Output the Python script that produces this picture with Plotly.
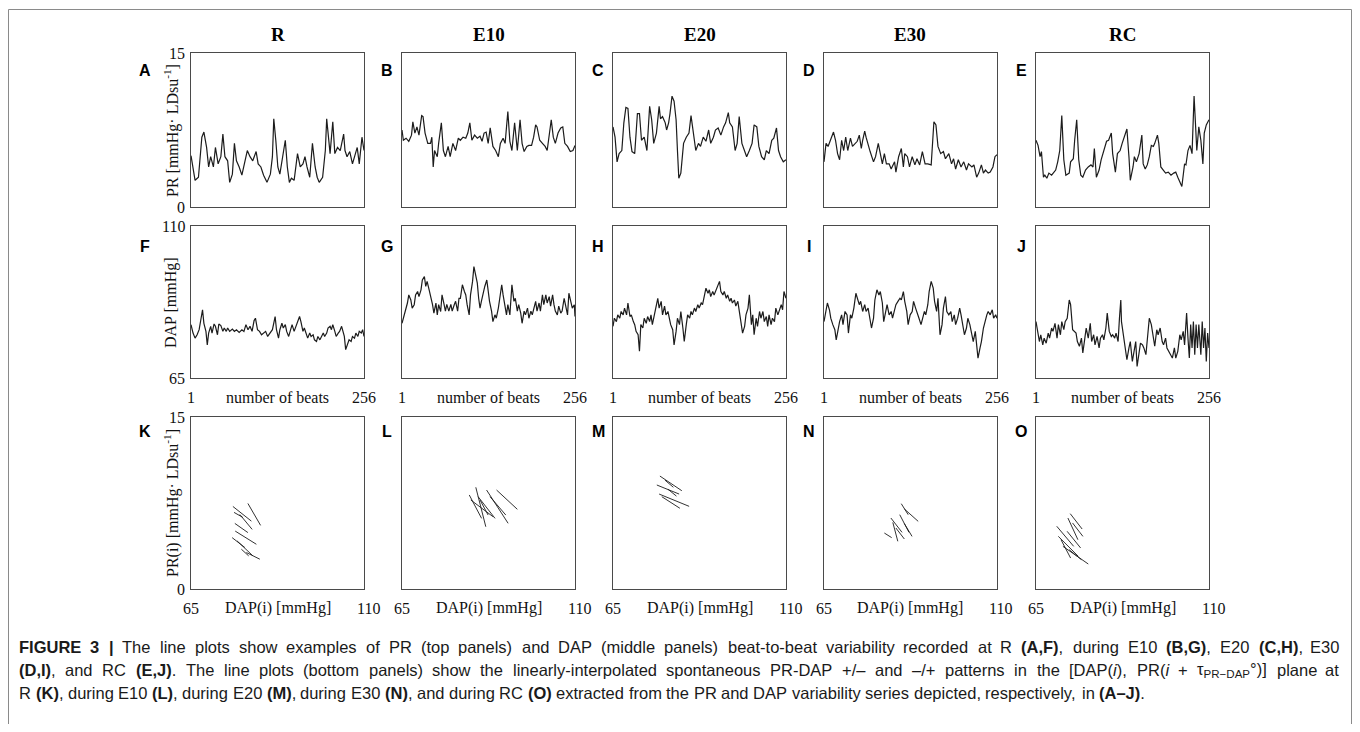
import re
import plotly.graph_objects as go

# ------------------------------------------------------------------ data
COLUMNS = ["R", "E10", "E20", "E30", "RC"]
TOP_LETTERS = ["A", "B", "C", "D", "E"]
MID_LETTERS = ["F", "G", "H", "I", "J"]
BOT_LETTERS = ["K", "L", "M", "N", "O"]

PR_RANGE = [0, 15]
DAP_RANGE = [65, 110]
BEAT_RANGE = [1, 256]
PR_TICKS = ["15", "0"]
DAP_TICKS = ["110", "65"]
BEAT_TICKS = ["1", "256"]
DAPX_TICKS = ["65", "110"]
Y_TITLES = ["PR [mmHg· LDsu<sup>-1</sup>]", "DAP [mmHg]", "PR(i) [mmHg· LDsu<sup>-1</sup>]"]
X_TITLES = ["number of beats", "DAP(i) [mmHg]"]

# PR series (beat, value) top row
PR_R = [(1,5.0),(7,2.6),(12,2.9),(17,6.8),(20,7.3),(24,5.8),(27,3.9),(30,4.9),(34,3.9),(37,5.8),(41,4.2),(45,4.9),(48,7.1),(51,4.9),(55,4.5),(58,2.4),(62,3.2),(65,6.2),(68,4.5),(72,3.9),(76,3.1),(81,4.5),(84,5.5),(88,4.9),(92,4.5),(97,5.4),(100,4.2),(104,3.9),(108,3.1),(113,2.4),(118,3.2),(121,4.9),(123,8.6),(126,6.5),(129,3.9),(132,3.2),(136,4.9),(140,6.5),(143,3.9),(146,2.4),(149,2.8),(153,2.6),(158,5.2),(162,3.9),(166,4.2),(169,4.9),(172,3.9),(176,2.9),(180,6.2),(184,3.9),(187,2.9),(190,2.4),(195,2.9),(199,5.5),(201,8.6),(204,6.8),(206,5.2),(210,8.3),(213,5.2),(217,5.8),(221,5.5),(226,7.1),(228,5.5),(231,4.9),(235,5.4),(239,4.2),(242,4.9),(246,5.8),(249,4.2),(253,6.8),(256,5.5)]
PR_E10 = [(1,7.5),(3,6.5),(7,6.7),(11,6.4),(15,7.0),(17,8.3),(20,7.2),(23,7.8),(26,7.0),(30,8.9),(32,8.8),(35,7.2),(39,6.2),(43,6.2),(45,6.8),(47,3.9),(49,5.5),(53,4.9),(55,6.2),(59,8.2),(62,5.5),(65,4.9),(69,5.9),(72,4.9),(76,6.2),(80,5.5),(84,6.7),(87,6.5),(91,6.8),(95,6.7),(98,7.2),(101,8.2),(104,6.5),(108,7.0),(112,6.7),(116,6.9),(119,6.4),(122,7.2),(125,7.3),(128,6.2),(131,7.7),(135,5.9),(139,5.5),(143,4.9),(146,6.2),(150,6.7),(153,6.2),(157,9.3),(160,6.4),(163,5.5),(167,8.2),(171,5.5),(175,8.5),(178,6.2),(181,5.4),(185,5.9),(188,6.0),(192,6.0),(195,6.8),(198,8.0),(200,7.8),(204,6.5),(208,6.2),(212,5.9),(215,5.5),(218,7.2),(221,8.5),(224,6.8),(227,6.2),(231,7.2),(235,7.7),(238,7.8),(241,6.2),(245,5.9),(249,5.4),(253,5.5),(256,6.0)]
PR_E20 = [(1,7.8),(4,6.8),(7,4.4),(10,5.2),(14,5.5),(17,8.2),(20,9.7),(23,9.6),(26,6.8),(29,5.4),(33,5.2),(37,9.1),(40,9.1),(43,6.5),(47,6.8),(51,5.5),(55,9.8),(58,8.5),(61,6.2),(65,7.2),(69,9.8),(71,8.6),(74,8.8),(78,8.2),(80,7.5),(83,8.2),(85,9.1),(88,10.8),(91,10.3),(94,8.5),(96,5.5),(98,2.8),(101,3.3),(105,6.2),(109,6.8),(113,7.2),(116,8.9),(120,7.2),(123,5.5),(127,6.2),(130,5.9),(134,6.8),(138,6.4),(142,7.5),(145,6.2),(149,6.8),(152,7.5),(156,7.7),(160,7.0),(164,7.8),(167,8.2),(171,9.2),(173,8.2),(177,7.8),(181,5.5),(184,6.2),(187,8.8),(191,6.2),(195,5.5),(198,4.9),(202,5.5),(206,6.2),(209,8.0),(213,7.8),(216,5.9),(220,4.9),(224,4.6),(227,5.5),(231,5.2),(235,6.5),(238,6.7),(242,7.7),(245,5.5),(248,4.9),(252,4.4),(256,4.6)]
PR_E30 = [(1,4.4),(4,6.2),(7,5.9),(10,6.4),(12,6.7),(15,7.3),(18,6.5),(21,5.2),(24,4.6),(27,6.5),(30,5.5),(33,6.8),(36,5.5),(40,6.7),(43,5.9),(47,6.2),(50,6.4),(53,7.0),(56,5.7),(58,6.5),(61,7.4),(63,6.8),(66,6.0),(69,5.4),(74,4.4),(77,4.9),(81,6.2),(83,5.5),(87,4.2),(90,5.2),(93,4.2),(97,4.2),(100,3.7),(105,4.4),(107,3.4),(111,4.9),(115,5.7),(118,3.9),(120,5.2),(124,4.9),(127,3.9),(131,4.9),(135,4.1),(138,4.7),(142,4.1),(146,5.4),(150,4.2),(154,4.2),(159,4.1),(163,8.3),(166,8.0),(169,5.9),(173,5.2),(177,5.4),(180,4.7),(185,5.2),(189,4.2),(192,4.7),(195,3.7),(199,4.6),(203,3.9),(207,4.4),(211,3.6),(214,4.2),(219,3.9),(222,4.1),(226,2.9),(229,3.3),(233,4.1),(236,3.3),(239,3.6),(243,3.3),(246,3.4),(250,3.9),(253,4.9),(256,5.1)]
PR_RC = [(1,6.5),(4,6.0),(7,4.9),(9,5.4),(12,2.9),(14,3.1),(17,2.8),(20,3.3),(24,3.1),(26,3.3),(30,3.6),(33,4.4),(36,5.5),(39,8.9),(42,4.6),(45,3.1),(50,3.3),(52,4.4),(56,4.7),(58,6.5),(61,8.5),(64,4.6),(67,3.1),(70,2.9),(74,3.6),(78,3.9),(82,4.1),(85,3.9),(87,5.7),(90,2.9),(94,3.6),(97,4.6),(101,5.5),(105,6.4),(108,6.5),(112,7.2),(114,5.2),(118,3.4),(121,5.2),(125,5.5),(128,6.2),(131,6.8),(135,7.6),(138,4.9),(140,2.6),(144,3.9),(146,4.9),(149,4.4),(153,5.2),(157,7.0),(159,4.2),(162,3.7),(165,4.1),(168,4.9),(171,6.0),(174,5.9),(176,6.2),(180,7.0),(182,6.2),(185,3.9),(188,3.6),(192,3.3),(196,3.4),(200,3.1),(204,3.3),(207,3.4),(210,2.9),(214,2.4),(216,2.0),(220,4.2),(222,4.1),(225,5.5),(228,6.0),(231,5.2),(234,10.8),(236,8.2),(238,5.5),(241,7.8),(244,6.5),(247,4.2),(249,7.2),(252,8.0),(254,8.2),(256,8.5)]

# DAP series (beat, value) middle row
DAP_R = [(1,80.8),(4,78.3),(7,76.8),(10,77.8),(13,79.3),(16,82.2),(18,85.2),(20,81.2),(23,78.8),(25,74.8),(27,78.3),(30,80.3),(32,78.3),(35,81.0),(37,80.3),(40,77.8),(42,81.0),(45,80.5),(48,78.8),(50,79.8),(53,78.8),(55,79.8),(58,78.8),(62,79.5),(65,78.8),(68,79.3),(72,78.5),(76,79.3),(79,78.8),(82,80.8),(85,79.3),(88,80.3),(91,78.8),(94,82.0),(96,82.7),(99,79.3),(102,78.8),(105,77.8),(108,78.3),(111,78.8),(114,77.3),(117,78.3),(121,79.3),(125,83.2),(127,79.3),(130,76.8),(132,79.3),(135,81.2),(137,79.8),(140,80.8),(142,78.8),(145,77.3),(148,79.3),(150,80.8),(153,78.8),(156,80.3),(158,81.7),(161,83.2),(163,81.7),(166,78.8),(168,79.8),(171,77.8),(173,76.8),(176,78.3),(178,77.3),(181,77.8),(183,76.3),(186,75.8),(188,77.3),(191,76.3),(193,77.3),(196,78.3),(198,77.3),(201,78.3),(203,79.8),(206,80.3),(208,79.3),(210,80.8),(213,78.8),(215,77.3),(218,78.3),(220,78.8),(223,80.3),(225,78.3),(227,77.3),(229,73.4),(231,74.4),(234,76.3),(237,75.8),(239,77.3),(242,76.8),(244,78.3),(247,77.3),(249,78.8),(252,78.3),(254,79.3),(256,77.3)]
DAP_E10 = [(1,81.2),(3,82.7),(6,84.7),(9,87.2),(11,89.6),(14,88.1),(16,85.7),(19,86.7),(21,89.6),(24,90.6),(26,89.1),(29,91.1),(31,94.0),(34,95.0),(36,92.1),(38,93.6),(41,91.1),(43,89.6),(46,86.7),(48,84.2),(51,87.2),(53,83.7),(55,86.7),(58,84.7),(60,89.6),(63,86.8),(65,84.8),(67,86.8),(70,84.8),(73,86.8),(75,84.8),(78,86.7),(80,87.7),(83,84.8),(85,88.6),(87,88.6),(90,92.6),(93,90.6),(95,89.6),(97,86.7),(100,83.7),(102,89.6),(105,93.6),(107,98.0),(109,95.5),(112,93.1),(114,88.6),(116,85.7),(118,87.7),(121,90.6),(123,92.1),(126,94.0),(128,90.6),(130,87.7),(133,84.8),(135,81.7),(138,83.7),(140,82.7),(143,85.7),(145,88.6),(148,92.6),(150,89.6),(153,85.7),(155,83.7),(157,86.7),(160,83.7),(163,92.6),(166,87.7),(168,88.6),(171,84.8),(173,86.7),(176,84.2),(178,81.2),(181,84.8),(183,83.7),(186,85.7),(188,82.7),(191,84.8),(193,83.7),(195,85.7),(198,87.7),(200,84.8),(203,87.2),(205,84.8),(208,89.6),(210,86.7),(213,89.6),(215,87.2),(218,89.1),(220,86.3),(223,89.6),(225,86.7),(227,84.8),(230,83.7),(232,86.3),(235,84.2),(237,84.8),(240,88.6),(242,86.7),(245,83.7),(247,90.1),(250,87.2),(252,85.7),(255,86.7),(256,83.2)]
DAP_E20 = [(1,80.3),(3,82.7),(6,81.7),(8,83.7),(11,82.7),(13,84.7),(16,83.7),(18,85.7),(21,83.7),(23,87.2),(26,83.2),(28,83.7),(31,81.7),(33,80.8),(35,78.8),(38,77.8),(40,72.9),(42,80.8),(45,79.8),(47,82.7),(50,81.2),(52,83.2),(55,81.7),(57,83.7),(59,80.8),(62,83.7),(64,86.7),(67,88.6),(69,85.7),(72,87.7),(74,83.7),(77,86.3),(79,83.7),(82,84.7),(84,82.7),(86,80.8),(89,79.3),(91,74.8),(94,78.8),(96,82.7),(99,80.8),(101,84.7),(104,79.8),(106,75.8),(109,80.8),(111,83.7),(114,82.7),(116,84.7),(118,83.7),(121,85.7),(123,84.7),(126,86.7),(128,85.7),(131,87.2),(133,86.7),(136,89.6),(138,91.6),(141,90.1),(143,91.1),(145,89.1),(148,90.6),(150,89.6),(153,91.1),(155,92.1),(158,93.6),(160,90.6),(163,89.6),(165,90.6),(168,88.6),(170,89.6),(173,87.7),(175,88.6),(177,87.2),(180,88.1),(182,86.3),(185,87.7),(187,84.7),(190,80.8),(192,78.3),(195,80.3),(197,83.7),(200,85.7),(202,89.6),(205,80.8),(207,83.7),(209,77.8),(212,82.7),(214,80.3),(217,84.7),(219,82.7),(222,84.7),(224,81.7),(227,83.2),(229,80.3),(231,83.7),(234,80.8),(236,82.7),(239,81.7),(241,85.7),(244,83.7),(246,84.7),(249,86.7),(251,85.2),(253,90.6),(256,88.6)]
DAP_E30 = [(1,81.7),(4,84.7),(6,87.2),(9,85.2),(11,82.7),(14,80.8),(17,79.3),(19,76.3),(22,79.8),(24,81.7),(27,83.7),(29,80.8),(32,84.7),(35,83.7),(37,78.3),(40,83.7),(42,82.7),(45,85.7),(48,90.1),(50,88.6),(53,86.7),(55,87.7),(58,84.7),(61,86.7),(63,84.7),(66,85.7),(68,83.7),(71,79.8),(74,82.7),(76,88.1),(79,91.1),(82,89.6),(84,90.6),(87,87.2),(89,81.7),(92,84.7),(94,86.7),(97,83.7),(100,84.7),(102,82.7),(105,84.7),(107,86.7),(110,87.7),(113,88.6),(115,88.1),(118,90.6),(120,87.7),(123,84.7),(125,80.8),(128,83.7),(131,84.7),(133,87.7),(136,85.7),(138,84.7),(141,82.7),(144,80.8),(146,82.7),(149,84.7),(151,83.7),(154,86.7),(156,90.6),(159,93.6),(162,91.6),(164,87.7),(167,84.7),(169,88.6),(172,77.8),(175,80.8),(177,85.7),(180,89.1),(182,84.7),(185,83.7),(188,84.7),(190,81.7),(193,83.7),(195,80.8),(198,82.7),(201,85.7),(203,83.7),(206,80.8),(208,77.8),(211,79.8),(213,82.7),(216,80.8),(219,77.8),(221,75.8),(224,78.8),(226,73.9),(228,70.9),(231,73.9),(233,75.8),(236,79.8),(238,81.7),(241,83.7),(243,84.7),(246,83.7),(249,85.2),(251,82.7),(254,83.7),(256,82.7)]
DAP_RC = [(1,81.7),(3,78.8),(6,75.8),(8,77.8),(11,74.8),(13,76.8),(16,75.3),(19,78.3),(21,76.8),(24,79.8),(26,78.8),(29,81.2),(32,76.8),(34,80.8),(37,77.8),(39,81.7),(42,79.3),(44,81.7),(47,82.7),(50,88.1),(52,86.7),(55,79.3),(57,78.8),(60,78.3),(62,75.8),(65,74.4),(68,76.8),(70,72.4),(73,76.8),(75,79.8),(78,76.8),(81,81.2),(83,75.8),(86,77.8),(88,74.8),(91,77.3),(94,73.9),(96,76.8),(99,77.8),(101,76.3),(104,79.8),(106,84.2),(109,78.8),(112,77.3),(114,77.8),(117,76.8),(119,78.3),(122,75.8),(124,82.7),(126,88.1),(127,81.7),(130,77.3),(132,75.8),(135,70.4),(138,73.9),(140,75.8),(143,69.9),(145,72.9),(148,75.8),(150,68.4),(153,71.9),(155,75.3),(158,74.8),(160,73.9),(163,71.9),(166,78.8),(168,82.7),(171,80.8),(174,76.8),(176,74.4),(179,79.3),(181,77.8),(184,79.8),(187,75.8),(189,74.8),(192,76.8),(194,73.9),(197,72.9),(200,71.9),(202,70.9),(205,73.9),(207,70.9),(210,72.9),(213,77.8),(215,76.3),(218,78.8),(220,74.8),(223,84.2),(225,76.8),(227,70.9),(229,80.8),(231,73.9),(233,81.7),(235,71.9),(237,80.8),(239,73.9),(241,80.8),(244,71.9),(246,81.7),(248,73.9),(250,79.8),(252,69.9),(254,78.3),(256,73.9)]

# PR-DAP patterns (bottom row): each segment ((DAP_start, PR_start), (DAP_end, PR_end))
PAT_R = [((79.8,7.46),(83.1,5.55)),((75.9,7.20),(80.7,5.92)),((76.2,6.68),(78.5,6.24)),((77.7,6.50),(80.9,5.20)),((76.4,5.72),(79.8,4.92)),((76.5,5.05),(82.0,3.90)),((75.7,4.48),(79.0,3.62)),((77.0,4.19),(81.1,2.89)),((78.1,3.47),(80.0,2.89)),((79.4,3.18),(82.9,2.60))]
PAT_E10 = [((84.2,8.87),(86.8,5.43)),((82.5,8.20),(85.7,6.16)),((82.9,7.76),(88.7,6.30)),((84.8,8.05),(89.2,6.16)),((87.0,8.63),(92.6,5.73)),((89.6,8.63),(95.0,6.95)),((87.9,8.05),(92.0,6.45)),((85.3,7.76),(87.4,6.45))]
PAT_E20 = [((77.2,9.85),(82.9,8.57)),((76.4,9.07),(82.2,8.28)),((77.0,8.28),(84.8,7.21)),((77.7,8.05),(82.4,7.04)),((78.5,9.50),(80.7,8.87)),((79.3,8.70),(81.5,8.10))]
PAT_E30 = [((85.1,7.44),(86.9,6.48)),((85.9,6.98),(89.5,5.90)),((82.4,6.19),(85.3,4.94)),((84.7,6.48),(87.1,4.94)),((80.7,4.88),(82.6,4.48)),((82.9,5.81),(84.2,4.16)),((85.9,5.70),(87.9,4.59)),((83.7,5.32),(85.9,4.36))]
PAT_RC = [((73.9,6.57),(77.0,5.23)),((73.3,6.19),(75.9,4.30)),((70.4,5.47),(74.8,3.72)),((70.8,4.59),(76.0,2.85)),((72.0,3.72),(78.6,2.18)),((73.1,5.03),(76.6,3.58)),((74.5,5.76),(77.2,4.59)),((71.5,4.30),(74.0,2.70)),((73.6,3.43),(76.8,2.56))]

TOP_SERIES = [PR_R, PR_E10, PR_E20, PR_E30, PR_RC]
MID_SERIES = [DAP_R, DAP_E10, DAP_E20, DAP_E30, DAP_RC]
BOT_SERIES = [PAT_R, PAT_E10, PAT_E20, PAT_E30, PAT_RC]

CAPTION = [
    "**FIGURE** **3** **|** The line plots show examples of PR (top panels) and DAP (middle panels) beat-to-beat variability recorded at R **(A,F)**, during E10 **(B,G)**, E20 **(C,H)**, E30",
    "**(D,I)**, and RC **(E,J)**. The line plots (bottom panels) show the linearly-interpolated spontaneous PR-DAP +/– and –/+ patterns in the [DAP(_i_), PR(_i_ + τ~PR−DAP~°)] plane at",
    "R **(K)**, during E10 **(L)**, during E20 **(M)**, during E30 **(N)**, and during RC **(O)** extracted from the PR and DAP variability series depicted, respectively, in **(A–J)**.",
]

# ------------------------------------------------------------------ layout helpers
FIG_W, FIG_H, OFF = 1344, 716, 8   # page body margin is 8px


def px_x(p):
    return (p - OFF) / FIG_W


def px_y(p):
    return 1 - (p - OFF) / FIG_H


COL_LEFT = [191, 402, 613, 824, 1036]
COL_W = 173
ROW_TB = [(53, 207), (226, 378), (417, 589)]

SERIF = "Liberation Serif, Times New Roman, serif"
SANS = "Liberation Sans, Arial, sans-serif"
INK = "#111111"
LINE = "#1c1c1c"

fig = go.Figure()
layout = dict(width=FIG_W, height=FIG_H, margin=dict(l=0, r=0, t=0, b=0, pad=0),
              paper_bgcolor="white", plot_bgcolor="white", showlegend=False)
ann = []

for r in range(3):
    for c in range(5):
        n = r * 5 + c + 1
        xid = "x" if n == 1 else f"x{n}"
        yid = "y" if n == 1 else f"y{n}"
        top, bot = ROW_TB[r]
        left = COL_LEFT[c]
        if r == 0:
            xr, yr = BEAT_RANGE, PR_RANGE
        elif r == 1:
            xr, yr = BEAT_RANGE, DAP_RANGE
        else:
            xr, yr = DAP_RANGE, PR_RANGE
        common = dict(showline=True, mirror=True, linecolor="#4a4a4a", linewidth=1.2,
                      showgrid=False, zeroline=False, showticklabels=False, ticks="",
                      fixedrange=True)
        layout["xaxis" if n == 1 else f"xaxis{n}"] = dict(
            domain=[px_x(left), px_x(left + COL_W)], range=xr, anchor=yid, **common)
        layout["yaxis" if n == 1 else f"yaxis{n}"] = dict(
            domain=[px_y(bot), px_y(top)], range=yr, anchor=xid, **common)

        # traces
        if r < 2:
            s = (TOP_SERIES if r == 0 else MID_SERIES)[c]
            fig.add_trace(go.Scatter(x=[p[0] for p in s], y=[p[1] for p in s], mode="lines",
                                     line=dict(color=LINE, width=1.2), xaxis=xid, yaxis=yid,
                                     hoverinfo="skip"))
        else:
            xs, ys = [], []
            for (a, b) in BOT_SERIES[c]:
                xs += [a[0], b[0], None]
                ys += [a[1], b[1], None]
            fig.add_trace(go.Scatter(x=xs, y=ys, mode="lines", connectgaps=False,
                                     line=dict(color=LINE, width=0.9), xaxis=xid, yaxis=yid,
                                     hoverinfo="skip"))

        xd, yd = f"{xid} domain", f"{yid} domain"
        # panel letter
        letter = [TOP_LETTERS, MID_LETTERS, BOT_LETTERS][r][c]
        ann.append(dict(text=f"<b>{letter}</b>", xref=xd, yref=yd, x=0, y=1,
                        xshift=(-46 if c == 0 else -15), yshift=[-17, -20, -14][r],
                        xanchor="center", yanchor="middle", showarrow=False,
                        font=dict(family=SANS, size=16, color="#000")))
        # column titles
        if r == 0:
            ann.append(dict(text=f"<b>{COLUMNS[c]}</b>", xref=xd, yref=yd, x=0.5, y=1,
                            yshift=19, xanchor="center", yanchor="middle", showarrow=False,
                            font=dict(family=SERIF, size=19, color="#000")))
        # x tick labels + titles (middle and bottom rows)
        if r >= 1:
            ticks = BEAT_TICKS if r == 1 else DAPX_TICKS
            ann.append(dict(text=ticks[0], xref=xid, yref=yd, x=xr[0], y=0, yshift=-19,
                            xanchor="center", yanchor="middle", showarrow=False,
                            font=dict(family=SERIF, size=16, color=INK)))
            ann.append(dict(text=ticks[1], xref=xid, yref=yd, x=xr[1], y=0, yshift=-19,
                            xshift=(0 if r == 1 else 4),
                            xanchor="center", yanchor="middle", showarrow=False,
                            font=dict(family=SERIF, size=16, color=INK)))
            ann.append(dict(text=X_TITLES[r - 1], xref=xd, yref=yd, x=0.5, y=0, yshift=-19,
                            xanchor="center", yanchor="middle", showarrow=False,
                            font=dict(family=SERIF, size=16, color=INK)))
        # y tick labels + titles (first column only)
        if c == 0:
            ticks = [PR_TICKS, DAP_TICKS, PR_TICKS][r]
            ann.append(dict(text=ticks[0], xref=xd, yref=yid, x=0, y=yr[1], xshift=-4,
                            xanchor="right", yanchor="middle", showarrow=False,
                            font=dict(family=SERIF, size=16, color=INK)))
            ann.append(dict(text=ticks[1], xref=xd, yref=yid, x=0, y=yr[0], xshift=-4,
                            xanchor="right", yanchor="middle", showarrow=False,
                            font=dict(family=SERIF, size=16, color=INK)))
            ann.append(dict(text=Y_TITLES[r], xref=xd, yref=yd, x=0, y=0.5, xshift=-20,
                            textangle=-90, xanchor="center", yanchor="middle",
                            showarrow=False, font=dict(family=SERIF, size=16, color=INK)))

# ------------------------------------------------------------------ caption (justified)
ARIAL = {" ": 278, "(": 333, ")": 333, ",": 278, "-": 333, ".": 278, "/": 278, "+": 584,
         "–": 556, "−": 584, "°": 400, "[": 278, "]": 278, "|": 260, "τ": 440}
for ch in "0123456789":
    ARIAL[ch] = 556
for ch, w in zip("ABCDEFGHIJKLMNOPQRSTUVWXYZ",
                 [667, 667, 722, 722, 667, 611, 778, 722, 278, 500, 667, 556, 833, 722, 778,
                  667, 778, 722, 667, 611, 722, 667, 944, 667, 667, 611]):
    ARIAL[ch] = w
for ch, w in zip("abcdefghijklmnopqrstuvwxyz",
                 [556, 556, 500, 556, 556, 278, 556, 556, 222, 222, 500, 222, 833, 556, 556,
                  556, 556, 333, 500, 278, 556, 500, 722, 500, 500, 500]):
    ARIAL[ch] = w
ARIAL_B = dict(ARIAL)
for ch, w in zip("ABCDEFGHIJKLMNOPQRSTUVWXYZ",
                 [722, 722, 722, 722, 667, 611, 778, 722, 278, 556, 722, 611, 833, 722, 778,
                  667, 778, 722, 667, 611, 722, 667, 944, 667, 667, 611]):
    ARIAL_B[ch] = w
ARIAL_B["|"] = 280


def to_html(word):
    word = re.sub(r"\*\*(.+?)\*\*", r"<b>\1</b>", word)
    word = re.sub(r"_(.+?)_", r"<i>\1</i>", word)
    word = re.sub(r"~(.+?)~", r"<sub>\1</sub>", word)
    return word


def em_width(html):
    bold = sub = False
    w = 0.0
    for tok in re.split(r"(<[^>]+>)", html):
        if tok.startswith("<"):
            closing = tok.startswith("</")
            tag = tok.strip("<>/").lower()
            if tag == "b":
                bold = not closing
            elif tag in ("sub", "sup"):
                sub = not closing
            continue
        for ch in tok:
            cw = (ARIAL_B if bold else ARIAL).get(ch, 556)
            w += cw * (0.7 if sub else 1.0)
    return w / 1000.0


CAP_LEFT, CAP_RIGHT = 18, 1340
CAP_LINE3_END = 1142
CAP_Y = [647, 670, 693]
line3 = [to_html(wd) for wd in CAPTION[2].split(" ")]
line3_em = sum(em_width(w) for w in line3) + 0.278 * (len(line3) - 1)
CAP_SIZE = round((CAP_LINE3_END - CAP_LEFT) / line3_em, 1)

for li, line in enumerate(CAPTION):
    words = [to_html(wd) for wd in line.split(" ")]
    widths = [em_width(w) * CAP_SIZE for w in words]
    if li < 2:
        gap = (CAP_RIGHT - CAP_LEFT - sum(widths)) / (len(words) - 1)
    else:
        gap = 0.278 * CAP_SIZE
    xpos = CAP_LEFT
    for i, (w, wd) in enumerate(zip(words, widths)):
        last = (i == len(words) - 1) and li < 2
        ann.append(dict(text=w, xref="paper", yref="paper",
                        x=px_x(CAP_RIGHT if last else xpos), y=px_y(CAP_Y[li]),
                        xanchor="right" if last else "left", yanchor="middle",
                        showarrow=False, borderpad=0,
                        font=dict(family=SANS, size=CAP_SIZE, color="#1a1a1a")))
        xpos += wd + gap

layout["annotations"] = ann

# outer frame (left, top, right)
FRAME = "#8a8a8a"
layout["shapes"] = [
    dict(type="line", xref="paper", yref="paper", x0=px_x(8.5), x1=px_x(8.5),
         y0=px_y(9.5), y1=0, line=dict(color=FRAME, width=1)),
    dict(type="line", xref="paper", yref="paper", x0=px_x(8.5), x1=px_x(1351.5),
         y0=px_y(9.5), y1=px_y(9.5), line=dict(color=FRAME, width=1)),
    dict(type="line", xref="paper", yref="paper", x0=px_x(1351.5), x1=px_x(1351.5),
         y0=px_y(9.5), y1=0, line=dict(color=FRAME, width=1)),
]

fig.update_layout(**layout)
fig.write_html("out.html")
